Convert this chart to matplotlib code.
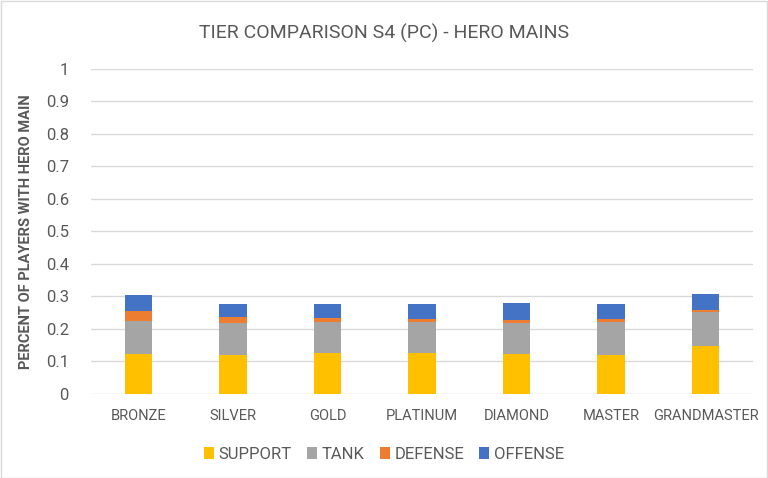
import numpy as np
import matplotlib.pyplot as plt
from matplotlib.patches import Rectangle

tiers = ["BRONZE", "SILVER", "GOLD", "PLATINUM", "DIAMOND", "MASTER", "GRANDMASTER"]
# segment sizes
support = [0.124, 0.121, 0.127, 0.127, 0.124, 0.121, 0.146]
tank = [0.099, 0.096, 0.093, 0.093, 0.093, 0.099, 0.105]
defense = [0.031, 0.018, 0.012, 0.009, 0.009, 0.009, 0.006]
offense = [0.049, 0.040, 0.043, 0.046, 0.053, 0.046, 0.049]

series = [("SUPPORT", support, "#FFC000"),
          ("TANK", tank, "#A5A5A5"),
          ("DEFENSE", defense, "#ED7D31"),
          ("OFFENSE", offense, "#4472C4")]

txt = "#595959"
plt.rcParams['font.family'] = ['Roboto', 'DejaVu Sans']

fig = plt.figure(figsize=(7.68, 4.78), dpi=100)
ax = fig.add_axes([0.1185, 0.176, 0.862, 0.68])

x = np.arange(len(tiers))
bottom = np.zeros(len(tiers))
for name, vals, col in series:
    ax.bar(x, vals, width=0.29, bottom=bottom, color=col, label=name, zorder=3)
    bottom += np.array(vals)

ax.set_ylim(0, 1)
ax.set_xlim(-0.5, len(tiers) - 0.5)
ax.set_yticks(np.arange(0, 1.01, 0.1))
ax.set_yticklabels(["0"] + [f"{v:.1f}" for v in np.arange(0.1, 0.95, 0.1)] + ["1"])
ax.set_xticks(x)
ax.set_xticklabels(tiers, fontsize=10.5)
ax.grid(axis='y', color="#D9D9D9", lw=1, zorder=0)
for s in ax.spines.values():
    s.set_visible(False)
ax.tick_params(length=0, colors=txt)
ax.tick_params(axis='y', labelsize=12, pad=16)
ax.tick_params(axis='x', pad=11)
ax.set_ylabel("PERCENT OF PLAYERS WITH HERO MAIN", color=txt, fontsize=10.5,
              fontweight='bold', labelpad=9)

fig.suptitle("TIER COMPARISON S4 (PC) - HERO MAINS", color=txt, fontsize=14, y=0.95)
fig.legend(loc='center', bbox_to_anchor=(0.5, 0.05), ncol=4, frameon=False,
           fontsize=12, handlelength=0.6, handleheight=0.7, handletextpad=0.3,
           columnspacing=0.9, labelcolor=txt)

fig.patches.append(Rectangle((0.001, 0.001), 0.998, 0.997, transform=fig.transFigure,
                             fill=False, edgecolor="#D9D9D9", lw=1))

fig.savefig("out.png", dpi=100)
